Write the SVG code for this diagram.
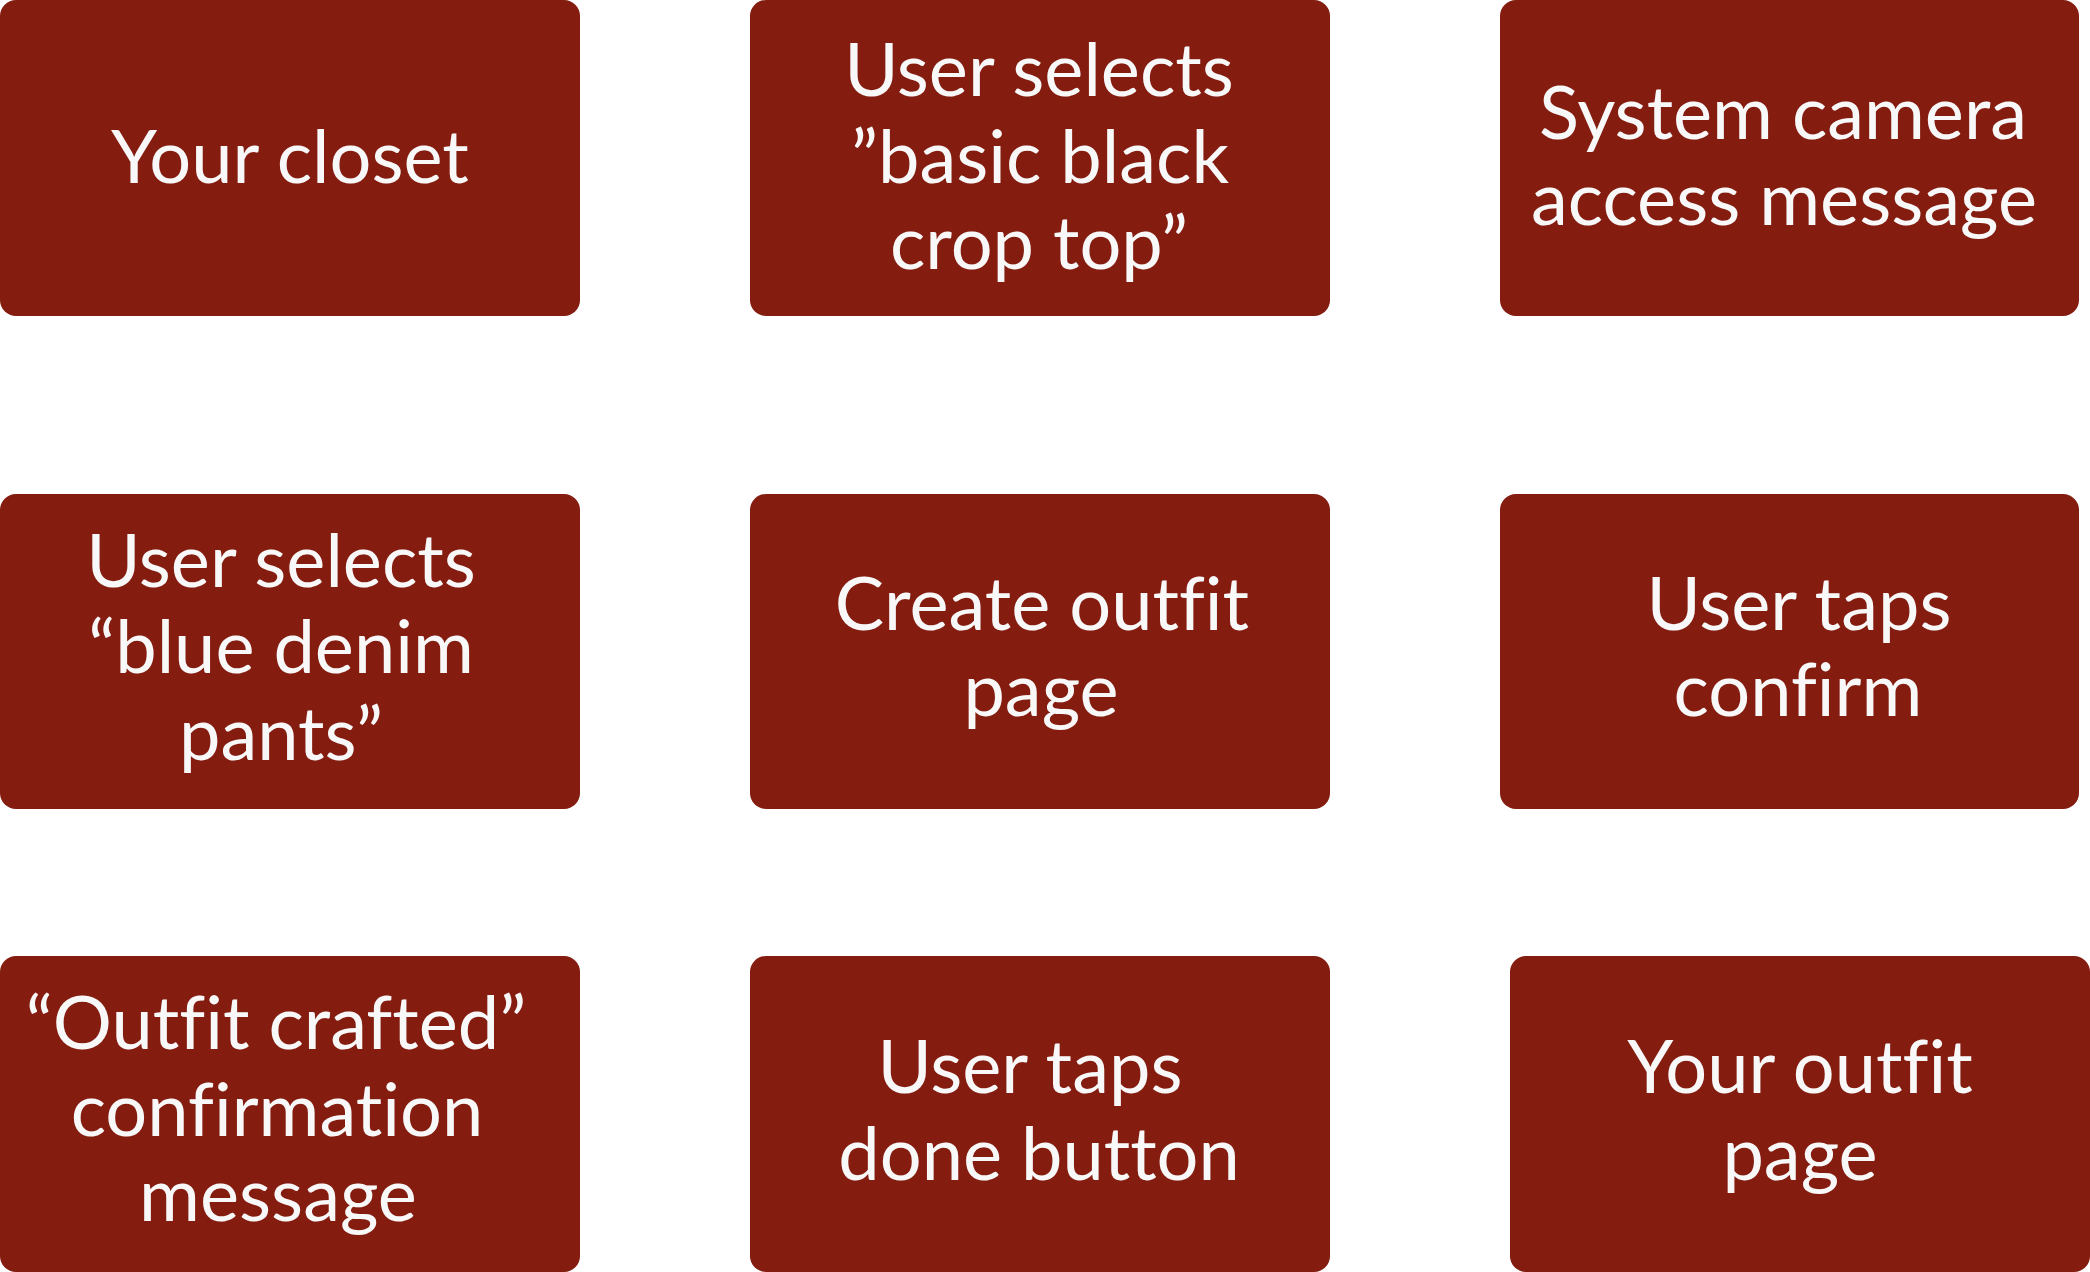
<svg xmlns="http://www.w3.org/2000/svg" width="2090" height="1272" viewBox="0 0 2090 1272">
<style>
.box{fill:#841C10}
.t{font-family:Lato,"Open Sans","Liberation Sans",sans-serif;font-size:74px;fill:#F8F8F8;text-anchor:middle;font-variant-ligatures:none}
</style>
<rect width="2090" height="1272" fill="#FFFFFF"/>
<g id="connectors"></g>
<g id="n1"><rect class="box" x="0" y="0" width="580" height="316" rx="16"/>
<text class="t" x="290" y="183">Your closet</text></g>
<g id="n2"><rect class="box" x="750" y="0" width="580" height="316" rx="16"/>
<text class="t" x="1039" y="96">User selects</text>
<text class="t" x="1040" y="183">”basic black</text>
<text class="t" x="1039" y="269">crop top”</text></g>
<g id="n3"><rect class="box" x="1500" y="0" width="579" height="316" rx="16"/>
<text class="t" x="1783" y="139">System camera</text>
<text class="t" x="1784" y="225">access message</text></g>
<g id="n4"><rect class="box" x="0" y="494" width="580" height="315" rx="16"/>
<text class="t" x="281" y="587">User selects</text>
<text class="t" x="281" y="673">“blue denim</text>
<text class="t" x="281" y="760">pants”</text></g>
<g id="n5"><rect class="box" x="750" y="494" width="580" height="315" rx="16"/>
<text class="t" x="1042" y="630">Create outfit</text>
<text class="t" x="1041" y="716">page</text></g>
<g id="n6"><rect class="box" x="1500" y="494" width="579" height="315" rx="16"/>
<text class="t" x="1799" y="630">User taps</text>
<text class="t" x="1798" y="716">confirm</text></g>
<g id="n7"><rect class="box" x="0" y="956" width="580" height="316" rx="16"/>
<text class="t" x="276" y="1049">“Outfit crafted”</text>
<text class="t" x="277" y="1136">confirmation</text>
<text class="t" x="278" y="1221">message</text></g>
<g id="n8"><rect class="box" x="750" y="956" width="580" height="316" rx="16"/>
<text class="t" x="1030" y="1093">User taps</text>
<text class="t" x="1039" y="1180">done button</text></g>
<g id="n9"><rect class="box" x="1510" y="956" width="580" height="316" rx="16"/>
<text class="t" x="1800" y="1093">Your outfit</text>
<text class="t" x="1800" y="1180">page</text></g>
</svg>
